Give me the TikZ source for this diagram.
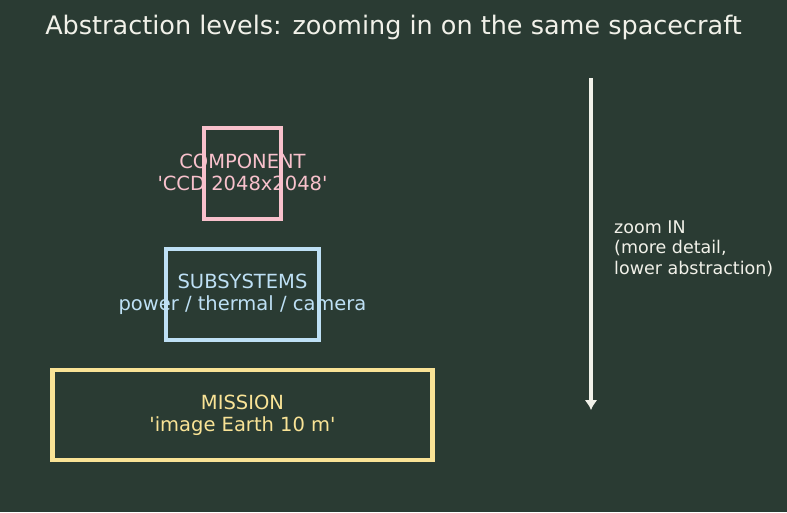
\documentclass[tikz,border=0pt]{standalone}
\usepackage{fontspec}
\setmainfont{DejaVu Sans}
\usetikzlibrary{arrows.meta,positioning}

\definecolor{bgdark}{HTML}{2A3B33}
\definecolor{pinkc}{HTML}{F8C1CC}
\definecolor{bluec}{HTML}{BEE0F5}
\definecolor{yellowc}{HTML}{F9E396}
\definecolor{offwhite}{HTML}{F1F1E9}

\begin{document}
\begin{tikzpicture}[
  x=1pt, y=-1pt,
  font=\fontsize{19.5}{22}\selectfont,
  lvl/.style={rectangle, line width=4.5pt, align=center, inner sep=0pt},
  a/.style={-{Latex[length=10pt,width=13pt]}, line width=3.5pt, draw=offwhite},
  lbl/.style={align=left, inner sep=0pt, text=offwhite,
              font=\fontsize{17.5}{20.5}\selectfont}
]
\fill[bgdark] (0,0) rectangle (787,512);
\useasboundingbox (0,0) rectangle (787,512);

% ---------------- title ----------------
\node[text=offwhite, font=\fontsize{25.5}{30}\selectfont] (title) at (393.5,27)
  {Abstraction levels: zooming in on the same spacecraft};

% ---------------- levels ----------------
\node[lvl, draw=pinkc, minimum width=77pt, minimum height=91pt] (comp) at (242.5,173.5) {};
\node[lvl, draw=bluec, minimum width=153pt, minimum height=91pt, below=25.5pt of comp] (subs) {};
\node[lvl, draw=yellowc, minimum width=380pt, minimum height=90pt, below=25.5pt of subs] (miss) {};

\node[text=pinkc, align=center] (comptxt) at ([yshift=1.5pt]comp) {COMPONENT\\\textquotesingle CCD 2048x2048\textquotesingle};
\node[text=bluec, align=center] (substxt) at (subs) {SUBSYSTEMS\\power / thermal / camera};
\node[text=yellowc, align=center] (misstxt) at (miss) {MISSION\\\textquotesingle image Earth 10 m\textquotesingle};

% ---------------- zoom arrow ----------------
\coordinate (ztop) at (591,78);
\coordinate (zbot) at (591,410);
\draw[a] (ztop) -- (zbot);
\node[lbl, anchor=west] (zlbl) at (614,248.5)
  {zoom IN\\(more detail,\\lower abstraction)};
\end{tikzpicture}
\end{document}
